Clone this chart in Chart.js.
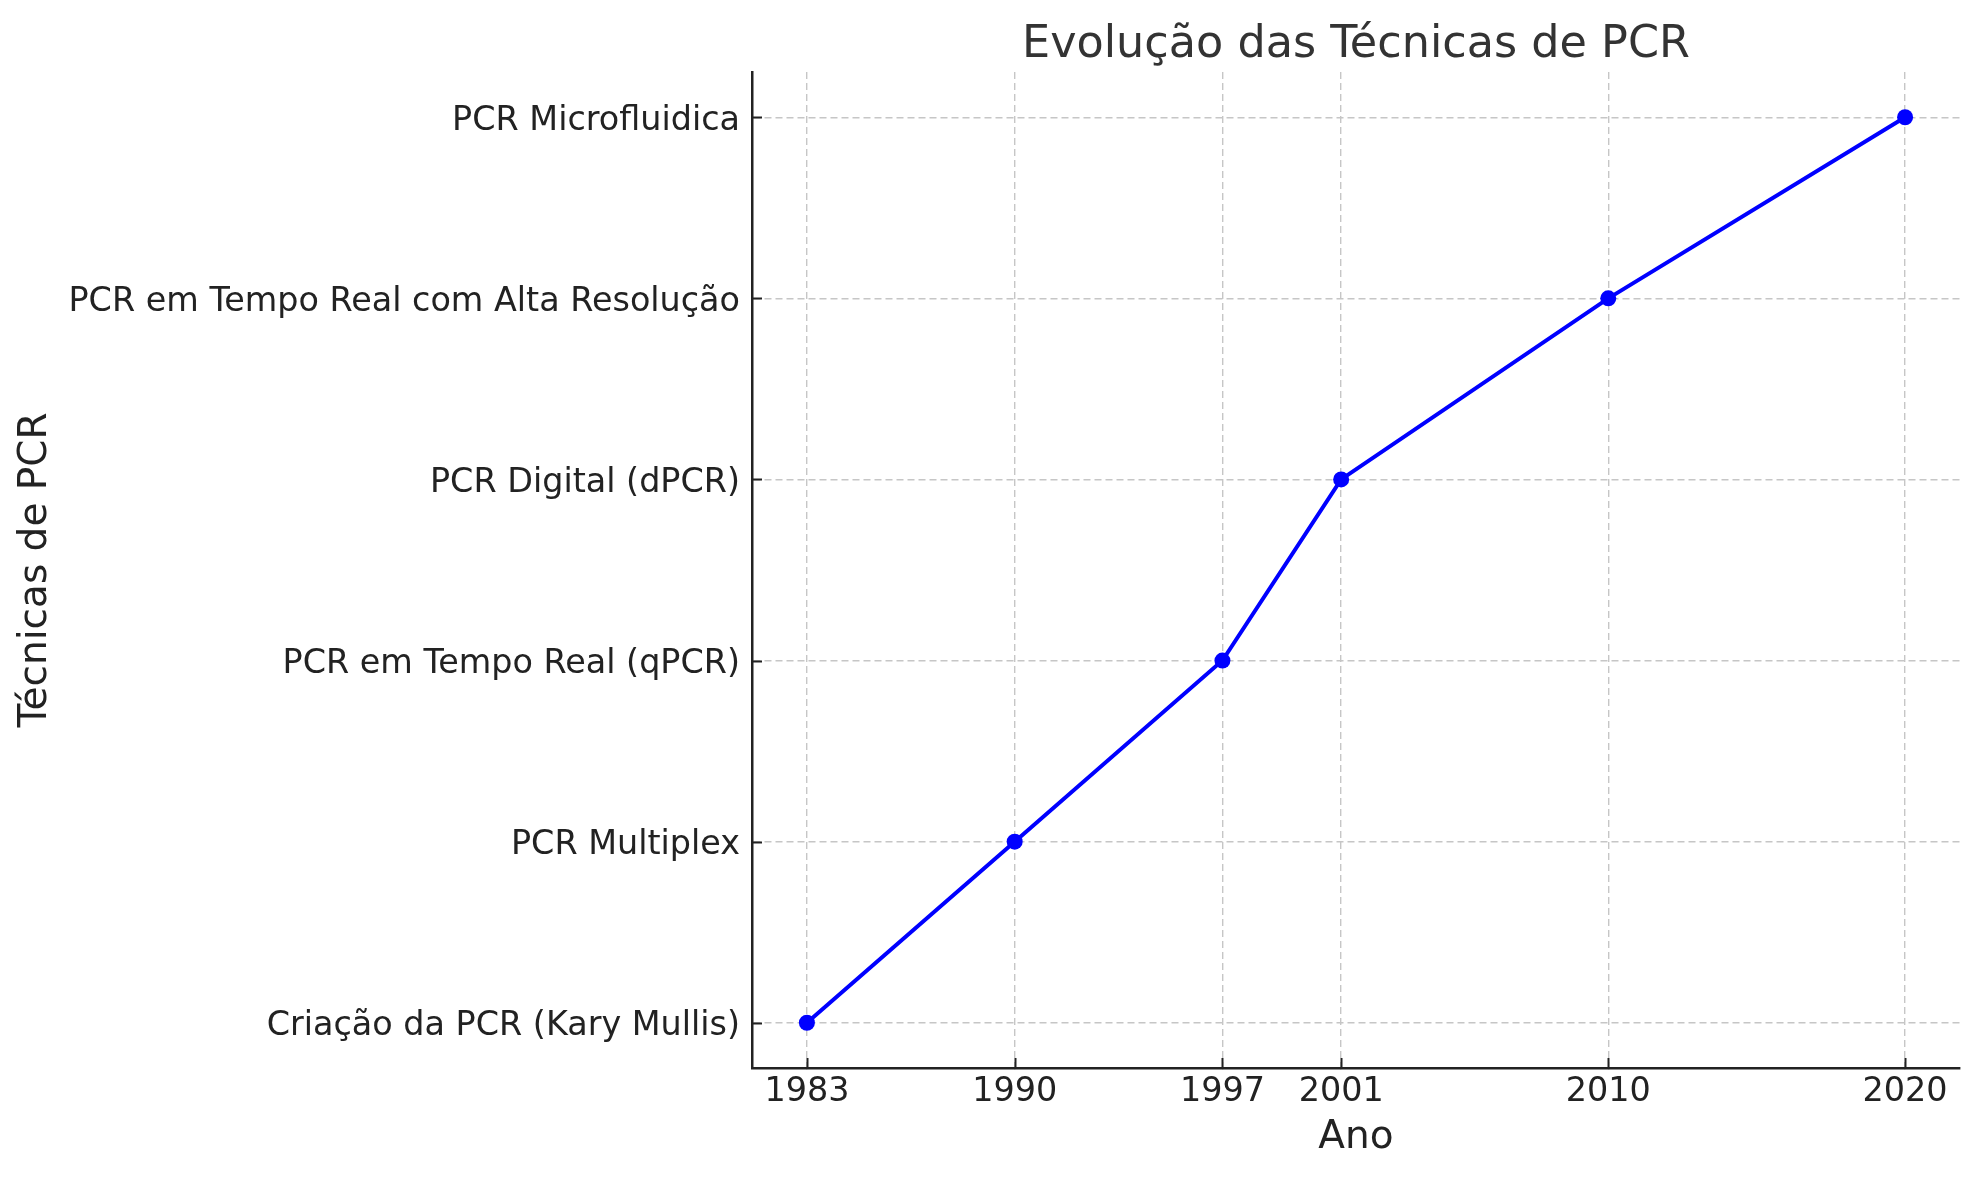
<!DOCTYPE html>
<html>
<head>
<meta charset="utf-8">
<title>Evolução das Técnicas de PCR</title>
<script src="https://cdn.jsdelivr.net/npm/chart.js@4/dist/chart.umd.min.js"></script>
<style>
  html, body { margin: 0; padding: 0; background: #ffffff; }
  #chart { display: block; }
</style>
</head>
<body>
<canvas id="chart" width="1980" height="1180"></canvas>
<script>
// data
const years = [1983, 1990, 1997, 2001, 2010, 2020];
const techniques = [
    'Criação da PCR (Kary Mullis)',
    'PCR Multiplex',
    'PCR em Tempo Real (qPCR)',
    'PCR Digital (dPCR)',
    'PCR em Tempo Real com Alta Resolução',
    'PCR Microfluidica'
];
const techniqueIndex = [0, 1, 2, 3, 4, 5];

const chartTitle = 'Evolução das Técnicas de PCR';
const xTitle = 'Ano';
const yTitle = 'Técnicas de PCR';

const FONT = '"DejaVu Sans", "Noto Sans", sans-serif';

// matplotlib-like 5% margins around the data
const xPad = (years[years.length - 1] - years[0]) * 0.05;
const yPad = (techniqueIndex[techniqueIndex.length - 1] - techniqueIndex[0]) * 0.05;

const points = years.map((yr, i) => ({ x: yr, y: techniqueIndex[i] }));

// title centred over the plot area, ticks pointing inward
const decorations = {
    id: 'decorations',
    afterDraw(chart) {
        const ctx = chart.ctx;
        const area = chart.chartArea;
        const xs = chart.scales.x;
        const ys = chart.scales.y;
        ctx.save();
        ctx.strokeStyle = '#222222';
        ctx.lineWidth = 2;
        xs.ticks.forEach(t => {
            const px = Math.round(xs.getPixelForValue(t.value)) + 0.5;
            ctx.beginPath();
            ctx.moveTo(px, area.bottom);
            ctx.lineTo(px, area.bottom - 10);
            ctx.stroke();
        });
        ys.ticks.forEach(t => {
            const py = Math.round(ys.getPixelForValue(t.value)) + 0.5;
            ctx.beginPath();
            ctx.moveTo(area.left, py);
            ctx.lineTo(area.left + 10, py);
            ctx.stroke();
        });
        ctx.fillStyle = '#333333';
        ctx.font = '44.5px ' + FONT;
        ctx.textAlign = 'center';
        ctx.textBaseline = 'alphabetic';
        ctx.fillText(chartTitle, (area.left + area.right) / 2, 57);
        ctx.restore();
    }
};

const gridStyle = {
    color: '#c6c6c6',
    lineWidth: 1.4,
    drawTicks: true,
    tickLength: 0
};

new Chart(document.getElementById('chart'), {
    type: 'line',
    data: {
        datasets: [{
            label: 'Técnicas',
            data: points,
            borderColor: '#0000ff',
            backgroundColor: '#0000ff',
            borderWidth: 4,
            pointRadius: 8,
            pointBorderWidth: 0,
            pointBackgroundColor: '#0000ff',
            tension: 0,
            clip: false
        }]
    },
    options: {
        responsive: false,
        animation: false,
        devicePixelRatio: 1,
        layout: { padding: { top: 72, right: 20, bottom: 0, left: 0 } },
        plugins: {
            legend: { display: false },
            title: { display: false },
            tooltip: { enabled: false }
        },
        scales: {
            x: {
                type: 'linear',
                min: years[0] - xPad,
                max: years[years.length - 1] + xPad,
                afterBuildTicks: axis => { axis.ticks = years.map(v => ({ value: v })); },
                afterFit: axis => { axis.height = 112; },
                grid: gridStyle,
                border: { display: true, color: '#222222', width: 2.5, dash: [7, 4] },
                ticks: {
                    color: '#222222',
                    font: { family: FONT, size: 33.4 },
                    padding: 4,
                    maxRotation: 0,
                    autoSkip: false,
                    callback: v => String(v)
                },
                title: {
                    display: true,
                    text: xTitle,
                    color: '#222222',
                    font: { family: FONT, size: 39 },
                    padding: { top: 0, bottom: 19 }
                }
            },
            y: {
                type: 'linear',
                min: techniqueIndex[0] - yPad,
                max: techniqueIndex[techniqueIndex.length - 1] + yPad,
                afterBuildTicks: axis => { axis.ticks = techniqueIndex.map(v => ({ value: v })); },
                afterFit: axis => { axis.width = 752; },
                grid: gridStyle,
                border: { display: true, color: '#222222', width: 2.5, dash: [7, 4] },
                ticks: {
                    color: '#222222',
                    font: { family: FONT, size: 33.4 },
                    padding: 12,
                    labelOffset: 4,
                    autoSkip: false,
                    callback: v => techniques[v] !== undefined ? techniques[v] : ''
                },
                title: {
                    display: true,
                    text: yTitle,
                    color: '#222222',
                    font: { family: FONT, size: 39 },
                    padding: { top: 12, bottom: 0 }
                }
            }
        }
    },
    plugins: [decorations]
});
</script>
</body>
</html>
